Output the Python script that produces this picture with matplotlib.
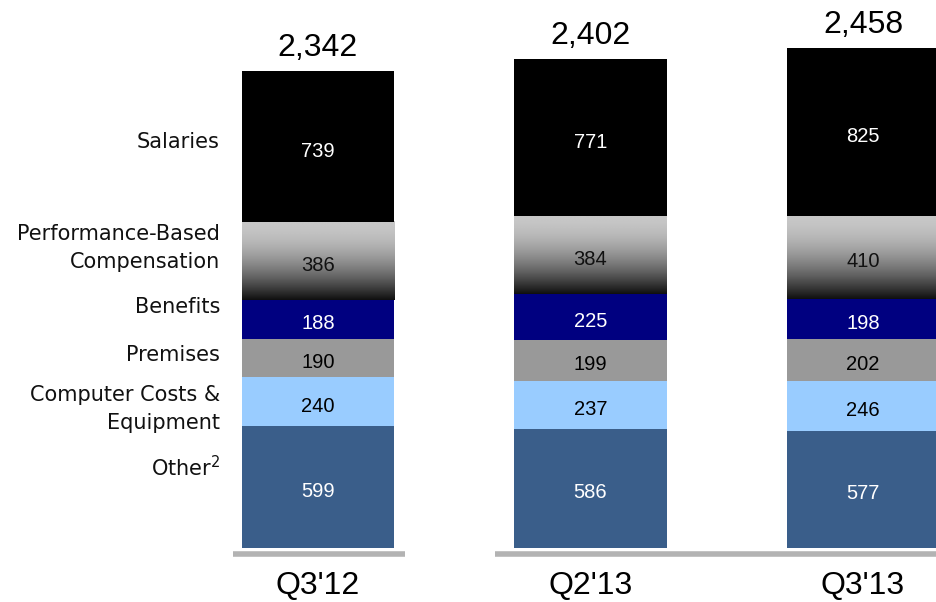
import numpy as np
import matplotlib
matplotlib.use("Agg")
import matplotlib.pyplot as plt

categories = ["Q3'12", "Q2'13", "Q3'13"]
segment_names = ["Other$^2$", "Computer Costs &\nEquipment", "Premises", "Benefits",
                 "Performance-Based\nCompensation", "Salaries"]
other = [599, 586, 577]
computer = [240, 237, 246]
premises = [190, 199, 202]
benefits = [188, 225, 198]
performance = [386, 384, 410]
salaries = [739, 771, 825]
totals = [2342, 2402, 2458]

series = [other, computer, premises, benefits, performance, salaries]
colors = ["#3a5e8a", "#99ccff", "#999999", "#000080", None, "#000000"]
text_colors = ["white", "black", "black", "white", "#111111", "white"]
label_y = [393, 683, 948, 1184, 1474, 1995]

fig = plt.figure(figsize=(9.36, 6.02), dpi=100)
ax = fig.add_axes([0, 0, 1, 1])
ax.set_xlim(-1.167, 2.268)
ax.set_ylim(-265, 2693)
ax.axis("off")

x = np.arange(len(categories))
width = 0.56
bottom = np.zeros(len(categories))
grad = np.linspace(0, 1, 256)
gray_vals = 0.78 * (1 - grad ** 1.7) + 0.06 * grad

for s, vals in enumerate(series):
    vals = np.array(vals)
    for i in range(len(categories)):
        if colors[s] is None:
            img = gray_vals.reshape(-1, 1)[::-1]
            ax.imshow(np.repeat(img, 2, axis=1), cmap="gray", vmin=0, vmax=1,
                      extent=[x[i] - width / 2, x[i] + width / 2, bottom[i], bottom[i] + vals[i]],
                      aspect="auto", origin="lower", interpolation="bilinear", zorder=2)
        else:
            ax.bar(x[i], vals[i], width, bottom=bottom[i], color=colors[s], zorder=2, linewidth=0)
        ax.text(x[i], bottom[i] + vals[i] / 2 - 12, f"{vals[i]}", ha="center", va="center_baseline",
                color=text_colors[s], fontsize=14.5, family="Liberation Sans", zorder=3)
    bottom += vals

for i in range(len(categories)):
    ax.text(x[i], totals[i] + 40, f"{totals[i]:,}", ha="center", va="bottom",
            fontsize=23, family="Liberation Sans")
    ax.text(x[i], -184, categories[i], ha="center", va="center",
            fontsize=23, family="Liberation Sans")

for s, name in enumerate(segment_names):
    ax.text(-0.36, label_y[s], name, ha="right", va="center", fontsize=15,
            family="DejaVu Sans", linespacing=1.45, color="#111111")

base_y = -30
ax.plot([-0.312, 0.319], [base_y, base_y], color="#b3b3b3", lw=4, solid_capstyle="butt", zorder=1)
ax.plot([0.65, 2.268], [base_y, base_y], color="#b3b3b3", lw=4, solid_capstyle="butt", zorder=1)

fig.savefig("out.png", dpi=100)
